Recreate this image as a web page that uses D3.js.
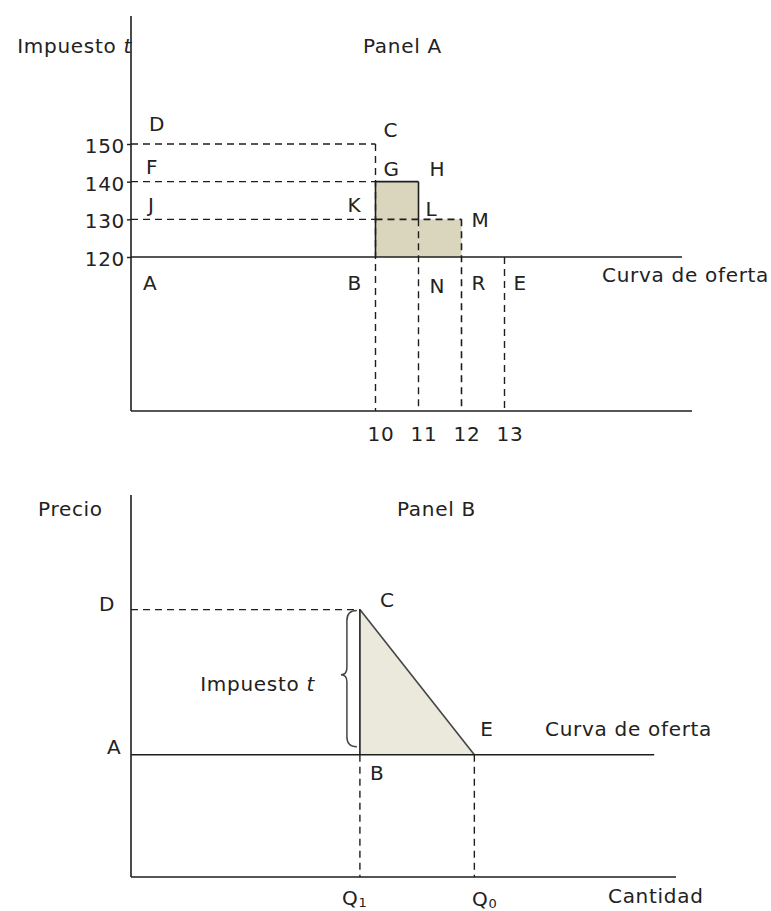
<!DOCTYPE html>
<html>
<head>
<meta charset="utf-8">
<script src="https://cdn.jsdelivr.net/npm/d3@7"></script>
<style>
  html, body { margin: 0; padding: 0; background: #fff; }
  svg text { font-family: 'DejaVu Sans', Verdana, sans-serif; font-size: 20px; letter-spacing: 0.7px; fill: #222; }
</style>
</head>
<body>
<svg id="chart" width="771" height="911"></svg>
<script>
// ---------- Data: Panel A ----------
const taxTicks = [120, 130, 140, 150];        // Impuesto t
const qtyTicks = [10, 11, 12, 13];            // cantidades
const supplyTax = 120;                        // curva de oferta
const taxLevels = [150, 140, 130];            // D, F, J
const blockStart = [10, 11];
const blockEnd = [11, 12];
const blockTop = [140, 130];
const equilibriumQty = 13;                    // E
// ---------- Data: Panel B ----------
const priceSupply = 32;   // A
const priceTax = 70;      // D
const qtyTax = 42;        // Q1
const qtyFree = 63;       // Q0

const svg = d3.select('#chart');
svg.append('rect').attr('width', 771).attr('height', 911).attr('fill', '#fff');
const ink = '#1e1e1e';
const dash = '7,5';

// ================= PANEL A =================
const axA = { left: 131, top: 16, bottom: 411, right: 692 };
const xA = d3.scaleLinear().domain([10, 13]).range([375.5, 504.5]);
const yA = d3.scaleLinear().domain([120, 150]).range([257, 144]);
const gA = svg.append('g');

// shaded blocks
gA.selectAll('rect.blk').data(blockStart.map((s, i) => ({ s, e: blockEnd[i], t: blockTop[i] })))
  .join('rect').attr('class', 'blk')
  .attr('x', d => xA(d.s)).attr('y', d => yA(d.t))
  .attr('width', d => xA(d.e) - xA(d.s)).attr('height', d => yA(supplyTax) - yA(d.t))
  .attr('fill', '#dad5bd');

function line(g, x1, y1, x2, y2, dashed, w) {
  return g.append('line').attr('x1', x1).attr('y1', y1).attr('x2', x2).attr('y2', y2)
    .attr('stroke', ink).attr('stroke-width', w || 1.4)
    .attr('stroke-dasharray', dashed ? dash : null);
}

// horizontal dashed guides from axis to q=10
taxLevels.forEach(t => line(gA, axA.left, yA(t), xA(10), yA(t), true));
// 130 line continuing across blocks
line(gA, xA(10), yA(130), xA(12), yA(130), true, 1.6);
// vertical dashed guides
line(gA, xA(10), yA(150), xA(10), axA.bottom, true);
line(gA, xA(11), yA(130), xA(11), axA.bottom, true);
line(gA, xA(12), yA(130), xA(12), axA.bottom, true, 1.6);
line(gA, xA(equilibriumQty), yA(supplyTax), xA(equilibriumQty), axA.bottom, true);
// solid block outline
line(gA, xA(10), yA(140), xA(11), yA(140), false, 1.6);
line(gA, xA(11), yA(140), xA(11), yA(130), false, 1.6);
line(gA, xA(10), yA(140), xA(10), yA(supplyTax), false, 1.6);
// supply curve
line(gA, axA.left, yA(supplyTax), 682, yA(supplyTax), false, 1.6);
// axes
line(gA, axA.left, axA.top, axA.left, axA.bottom, false, 1.6);
line(gA, axA.left, axA.bottom, axA.right, axA.bottom, false, 1.6);

// y-axis ticks
const yAxisA = d3.axisLeft(yA).tickValues(taxTicks).tickSize(4).tickPadding(2).tickFormat(d3.format('d'));
const gyA = gA.append('g').attr('transform', `translate(${axA.left},0)`).call(yAxisA);
gyA.select('.domain').remove();
gyA.selectAll('.tick line').attr('stroke', ink).attr('stroke-width', 1.4);
gyA.selectAll('.tick text').attr('font-size', null).attr('font-family', null).attr('fill', '#222').attr('dy', '0.42em');

// x-axis tick labels
const xAxisA = d3.axisBottom(xA).tickValues(qtyTicks).tickSize(0).tickPadding(16).tickFormat(d3.format('d'));
const gxA = gA.append('g').attr('transform', `translate(0,${axA.bottom})`).call(xAxisA);
gxA.select('.domain').remove();
gxA.selectAll('.tick text').attr('font-size', null).attr('font-family', null).attr('fill', '#222').attr('dx', '5');

// labels panel A
const labelsA = [
  ['D', 10, 150, 'axis', 18, -13],
  ['F', 10, 140, 'axis', 15, -8],
  ['J', 10, 130, 'axis', 17, -7],
  ['A', 10, 120, 'axis', 12, 33],
  ['C', 10, 150, 'q', 8, -7],
  ['G', 10, 140, 'q', 8, -6],
  ['H', 11, 140, 'q', 11, -6],
  ['K', 10, 130, 'q', -28, -7],
  ['L', 11, 130, 'q', 7, -3],
  ['M', 12, 130, 'q', 10, 8],
  ['B', 10, 120, 'q', -28, 33],
  ['N', 11, 120, 'q', 11, 36],
  ['R', 12, 120, 'q', 10, 33],
  ['E', 13, 120, 'q', 9, 33]
];
labelsA.forEach(([t, q, v, ref, dx, dy]) => {
  const x = (ref === 'axis' ? axA.left : xA(q)) + dx;
  gA.append('text').attr('x', x).attr('y', yA(v) + dy).text(t);
});
gA.append('text').attr('x', 602).attr('y', 282).text('Curva de oferta');
gA.append('text').attr('x', 363).attr('y', 53).text('Panel A');
const tA = gA.append('text').attr('x', 132).attr('y', 53).attr('text-anchor', 'end');
tA.append('tspan').text('Impuesto ');
tA.append('tspan').attr('font-style', 'italic').text('t');

// ================= PANEL B =================
const axB = { left: 131, top: 495, bottom: 877, right: 676 };
const xB = d3.scaleLinear().domain([0, 100]).range([axB.left, axB.right]);
const yB = d3.scaleLinear().domain([0, 100]).range([axB.bottom, axB.top]);
const gB = svg.append('g');

// triangle (deadweight loss)
const tri = [[qtyTax, priceTax], [qtyTax, priceSupply], [qtyFree, priceSupply]];
gB.append('path')
  .attr('d', d3.line().x(d => xB(d[0])).y(d => yB(d[1]))(tri) + 'Z')
  .attr('fill', '#ebe8dc').attr('stroke', 'none');
line(gB, xB(qtyTax), yB(priceTax), xB(qtyFree), yB(priceSupply), false, 1.6).attr('stroke', '#444');

// guides
line(gB, axB.left, yB(priceTax), xB(qtyTax), yB(priceTax), true);
line(gB, xB(qtyTax), yB(priceSupply), xB(qtyTax), axB.bottom, true);
line(gB, xB(qtyFree), yB(priceSupply), xB(qtyFree), axB.bottom, true);
// tax bar
line(gB, xB(qtyTax), yB(priceTax), xB(qtyTax), yB(priceSupply), false, 1.6);
// supply curve
line(gB, axB.left, yB(priceSupply), xB(96), yB(priceSupply), false, 1.6);
// axes
line(gB, axB.left, axB.top, axB.left, axB.bottom, false, 1.6);
line(gB, axB.left, axB.bottom, axB.right, axB.bottom, false, 1.6);

// brace
(function () {
  const yt = yB(priceTax) + 1, yb = yB(priceSupply) - 8;
  const ym = (yt + yb) / 2 - 4;
  const xr = xB(qtyTax) - 3, xm = xr - 10, xt = xm - 6;
  const p = `M${xr},${yt} Q${xm},${yt} ${xm},${yt + 10} L${xm},${ym - 7} Q${xm},${ym} ${xt},${ym} ` +
            `Q${xm},${ym} ${xm},${ym + 7} L${xm},${yb - 10} Q${xm},${yb} ${xr},${yb}`;
  gB.append('path').attr('d', p).attr('fill', 'none').attr('stroke', '#444').attr('stroke-width', 1.5);
})();

// labels panel B
gB.append('text').attr('x', 38).attr('y', 516).text('Precio');
gB.append('text').attr('x', 397).attr('y', 516).text('Panel B');
gB.append('text').attr('x', 99).attr('y', yB(priceTax) + 1).text('D');
gB.append('text').attr('x', 107).attr('y', yB(priceSupply) - 1).text('A');
gB.append('text').attr('x', xB(qtyTax) + 20).attr('y', yB(priceTax) - 3).text('C');
gB.append('text').attr('x', xB(qtyTax) + 10).attr('y', yB(priceSupply) + 25).text('B');
gB.append('text').attr('x', xB(qtyFree) + 6).attr('y', yB(priceSupply) - 19).text('E');
gB.append('text').attr('x', 545).attr('y', 736).text('Curva de oferta');
gB.append('text').attr('x', 608).attr('y', 903).text('Cantidad');
const tB = gB.append('text').attr('x', 315).attr('y', 691).attr('text-anchor', 'end');
tB.append('tspan').text('Impuesto ');
tB.append('tspan').attr('font-style', 'italic').text('t');
const q1 = gB.append('text').attr('x', 342).attr('y', 905);
q1.append('tspan').text('Q');
q1.append('tspan').attr('font-size', '13px').attr('dy', 2).text('1');
const q0 = gB.append('text').attr('x', 472).attr('y', 906);
q0.append('tspan').text('Q');
q0.append('tspan').attr('font-size', '13px').attr('dy', 2).text('0');
</script>
</body>
</html>
